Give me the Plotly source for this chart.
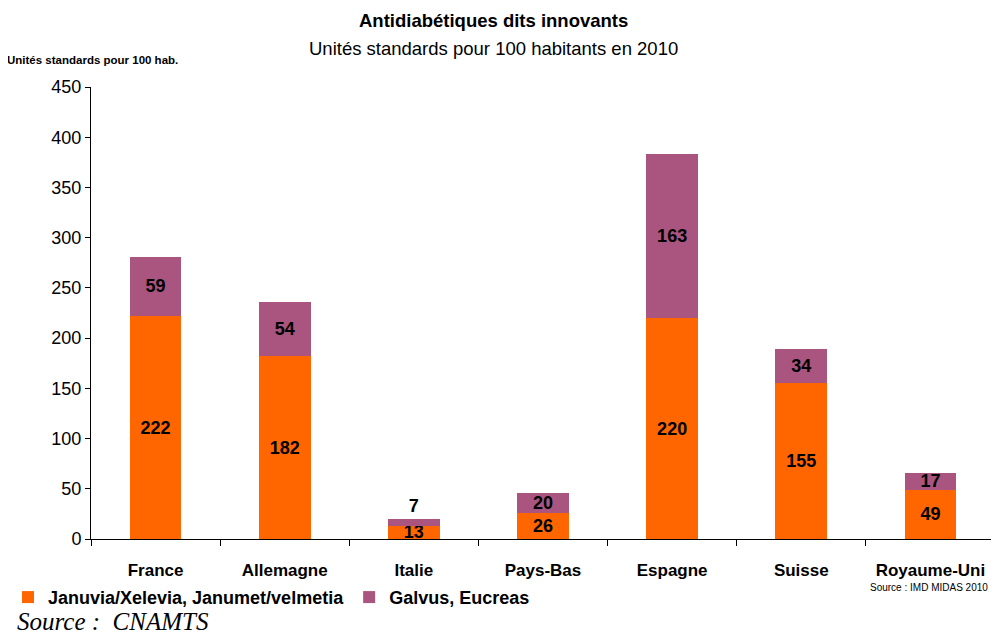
import plotly.graph_objects as go

pays = ["France", "Allemagne", "Italie", "Pays-Bas", "Espagne", "Suisse", "Royaume-Uni"]
januvia = [222, 182, 13, 26, 220, 155, 49]
galvus = [59, 54, 7, 20, 163, 34, 17]
yticks = [0, 50, 100, 150, 200, 250, 300, 350, 400, 450]

police = "Liberation Sans, Arial, sans-serif"

# l'étiquette de la petite barre (Italie) passe au-dessus
pos_galvus = ["inside" if v > 10 else "outside" for v in galvus]

fig = go.Figure()
fig.add_trace(go.Bar(x=pays, y=januvia, name="<b>Januvia/Xelevia, Janumet/velmetia</b>",
                     marker=dict(color="#ff6600", line=dict(width=0)),
                     text=januvia, texttemplate="<b>%{text}</b>",
                     textposition="inside", insidetextanchor="middle",
                     constraintext="none", textangle=0,
                     textfont=dict(family=police, size=18, color="black")))
fig.add_trace(go.Bar(x=pays, y=galvus, name="<b>Galvus, Eucreas</b>",
                     marker=dict(color="#aa5580", line=dict(width=0)),
                     text=galvus, texttemplate="<b>%{text}</b>",
                     textposition=pos_galvus, insidetextanchor="middle",
                     constraintext="none", textangle=0, cliponaxis=False,
                     textfont=dict(family=police, size=18, color="black")))

# la page ajoute 8 px de marge autour du graphique
fig.update_layout(
    barmode="stack", bargap=0.6,
    width=991, height=627,
    margin=dict(l=83, r=4, t=79, b=96),
    plot_bgcolor="white", paper_bgcolor="white",
    font=dict(family=police, color="black"),
    showlegend=True,
    legend=dict(orientation="h", x=0.0, y=0.06, xref="container", yref="container",
                xanchor="left", yanchor="middle",
                font=dict(family=police, size=18, color="black"),
                traceorder="normal", itemwidth=30, tracegroupgap=0),
)
fig.update_xaxes(showline=True, linecolor="black", linewidth=1, ticks="outside",
                 tickson="boundaries", ticklen=6, tickcolor="black",
                 ticklabelstandoff=16, automargin=False,
                 tickfont=dict(family=police, size=17, color="black"),
                 tickvals=pays, ticktext=["<b>" + p + "</b>" for p in pays])
fig.update_yaxes(range=[0, 450], tickvals=yticks, showline=True, linecolor="black",
                 linewidth=1, ticks="outside", ticklen=5, tickcolor="black",
                 showgrid=False, zeroline=False, automargin=False,
                 tickfont=dict(family=police, size=18, color="black"))

# titres et sources (coordonnées papier)
fig.add_annotation(text="<b>Antidiabétiques dits innovants</b>",
                   x=0.445, y=1.148, xref="paper", yref="paper", yanchor="middle",
                   xanchor="center", showarrow=False,
                   font=dict(family=police, size=18.5, color="black"))
fig.add_annotation(text="Unités standards pour 100 habitants en 2010",
                   x=0.445, y=1.086, xref="paper", yref="paper", yanchor="middle",
                   xanchor="center", showarrow=False,
                   font=dict(family=police, size=18.5, color="black"))
fig.add_annotation(text="<b>Unités standards pour 100 hab.</b>", x=-0.095, y=1.06,
                   xref="paper", yref="paper", xanchor="left", yanchor="middle",
                   showarrow=False, font=dict(family=police, size=11.5, color="black"))
fig.add_annotation(text="Source : IMD MIDAS 2010", x=0.994, y=-0.108,
                   xref="paper", yref="paper", xanchor="right", yanchor="middle",
                   showarrow=False, font=dict(family=police, size=10, color="black"))
fig.add_annotation(text="<i>Source :  CNAMTS</i>", x=-0.084, y=-0.182,
                   xref="paper", yref="paper", xanchor="left", yanchor="middle",
                   showarrow=False, font=dict(family="Liberation Serif, Times New Roman, serif",
                                              size=25, color="black"))

fig.write_html("out.html")
